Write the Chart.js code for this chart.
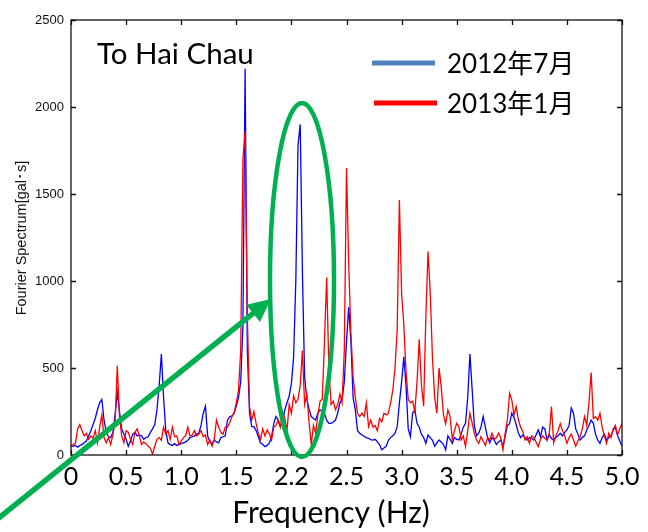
<!DOCTYPE html>
<html>
<head>
<meta charset="utf-8">
<script src="https://cdn.jsdelivr.net/npm/chart.js@4/dist/chart.umd.min.js"></script>
<style>
  html, body { margin: 0; padding: 0; background: #fff; }
  #wrap { width: 648px; height: 532px; }
</style>
</head>
<body>
<div id="wrap"><canvas id="chart" width="648" height="532"></canvas></div>
<script>
// spectrum sampled every DF Hz, 0 .. 5 Hz
const DF = 0.02;

const july2012 = [
  55, 50, 55, 45, 55, 60, 70, 80, 110, 140,
  175, 210, 260, 300, 320, 200, 130, 105, 100, 130,
  230, 360, 250, 150, 120, 90, 50, 80, 120, 130,
  110, 115, 110, 90, 100, 105, 130, 150, 175, 260,
  400, 580, 330, 140, 70, 60, 55, 65, 55, 60,
  65, 70, 75, 85, 100, 105, 110, 120, 125, 170,
  240, 280, 110, 75, 65, 85, 75, 70, 100, 105,
  110, 200, 220, 225, 240, 280, 330, 420, 740, 2220,
  600, 240, 163, 163, 140, 105, 70, 60, 48, 55,
  70, 105, 180, 221, 201, 163, 190, 259, 300, 340,
  412, 560, 1000, 1780, 1900, 1050, 450, 320, 265, 221,
  210, 201, 240, 259, 250, 240, 200, 182, 182, 190,
  201, 240, 300, 320, 420, 650, 850, 650, 330, 259,
  140, 125, 115, 108, 100, 96, 88, 86, 90, 75,
  60, 30, 40, 50, 85, 100, 110, 125, 163, 300,
  420, 565, 400, 150, 105, 240, 260, 182, 160, 120,
  100, 67, 115, 100, 85, 50, 70, 86, 75, 60,
  29, 110, 90, 67, 100, 90, 86, 120, 160, 182,
  330, 580, 380, 170, 110, 125, 160, 221, 160, 100,
  70, 100, 86, 60, 75, 86, 50, 110, 170, 180,
  240, 215, 175, 125, 100, 115, 100, 86, 100, 95,
  86, 115, 144, 105, 160, 150, 86, 115, 95, 86,
  100, 110, 125, 110, 130, 144, 170, 270, 240, 150,
  120, 86, 100, 110, 144, 170, 201, 182, 120, 86,
  67, 100, 120, 86, 100, 110, 144, 160, 110, 80, 50
];

const jan2013 = [
  48, 60, 67, 150, 175, 140, 110, 125, 90, 110,
  95, 140, 70, 160, 230, 100, 70, 100, 60, 115,
  190, 513, 220, 110, 70, 140, 130, 90, 60, 130,
  150, 110, 60, 75, 65, 50, 40, 5, 50, 90,
  100, 85, 160, 120, 140, 90, 160, 105, 110, 60,
  80, 100, 110, 160, 110, 115, 140, 110, 120, 140,
  105, 115, 60, 86, 50, 90, 200, 160, 130, 120,
  160, 160, 185, 221, 240, 300, 370, 600, 1700, 1860,
  800, 280, 200, 250, 180, 125, 90, 150, 110, 145,
  120, 86, 160, 170, 200, 160, 250, 210, 140, 290,
  240, 340, 300, 320, 400, 600, 290, 350, 190, 60,
  170, 125, 230, 310, 320, 650, 1020, 500, 290, 310,
  260, 290, 350, 300, 600, 1650, 1100, 700, 450, 330,
  240, 221, 240, 221, 300, 163, 200, 160, 170, 140,
  210, 190, 240, 230, 240, 300, 370, 500, 720, 1466,
  930, 750, 480, 320, 300, 310, 250, 420, 665, 400,
  280, 795, 1169, 930, 560, 330, 240, 500, 390, 230,
  180, 259, 221, 90, 140, 182, 163, 86, 110, 48,
  140, 240, 185, 125, 86, 67, 105, 80, 55, 100,
  86, 125, 90, 100, 125, 100, 30, 125, 201, 355,
  316, 230, 278, 201, 160, 135, 86, 105, 67, 110,
  100, 75, 48, 90, 110, 95, 86, 125, 278, 70,
  110, 140, 180, 140, 110, 67, 100, 120, 86, 50,
  80, 105, 150, 221, 170, 300, 474, 210, 220, 200,
  240, 160, 110, 67, 125, 100, 150, 170, 115, 150, 182
];

const seriesNames = ['2012年7月', '2013年1月'];
const xTickLabels = ['0', '0.5', '1.0', '1.5', '2.2', '2.5', '3.0', '3.5', '4.0', '4.5', '5.0'];
const stationName = 'To Hai Chau';
const xTitle = 'Frequency (Hz)';
const yTitle = 'Fourier Spectrum[gal･s]';

const toPoints = arr => arr.map((v, i) => ({ x: +(i * DF).toFixed(2), y: v }));

const LATO = 'Lato, "Noto Sans CJK JP", sans-serif';
const ARIAL = '"Liberation Sans", Arial, sans-serif';

// box, inward ticks, titles, legend and the green highlight
const decor = {
  id: 'decor',
  afterDraw(chart) {
    const { ctx, chartArea: a, scales: { x, y } } = chart;
    ctx.save();

    ctx.strokeStyle = '#111';
    ctx.lineWidth = 1.3;
    ctx.strokeRect(a.left, a.top, a.right - a.left, a.bottom - a.top);
    ctx.beginPath();
    x.ticks.forEach(t => {
      const px = Math.round(x.getPixelForValue(t.value)) + 0.5;
      ctx.moveTo(px, a.bottom); ctx.lineTo(px, a.bottom - 5);
      ctx.moveTo(px, a.top); ctx.lineTo(px, a.top + 5);
    });
    y.ticks.forEach(t => {
      const py = Math.round(y.getPixelForValue(t.value)) + 0.5;
      ctx.moveTo(a.left, py); ctx.lineTo(a.left + 5, py);
      ctx.moveTo(a.right, py); ctx.lineTo(a.right - 5, py);
    });
    ctx.stroke();

    // axis titles
    ctx.fillStyle = '#111';
    ctx.font = '14.5px ' + ARIAL;
    ctx.textAlign = 'center';
    ctx.textBaseline = 'middle';
    ctx.save();
    ctx.translate(22, 238);
    ctx.rotate(-Math.PI / 2);
    ctx.fillText(yTitle, 0, 0);
    ctx.restore();

    ctx.fillStyle = '#000';
    ctx.font = '30px ' + LATO;
    ctx.fillText(xTitle, 331, 513);

    // station name
    ctx.textAlign = 'left';
    ctx.textBaseline = 'alphabetic';
    ctx.font = '29.5px ' + LATO;
    ctx.fillText(stationName, 97, 64);

    // legend
    const legendRows = [
      { color: '#4f81bd', y: 63, x0: 372, x1: 435 },
      { color: '#ff0000', y: 103, x0: 374, x1: 437 }
    ];
    ctx.font = '26px ' + LATO;
    ctx.textBaseline = 'middle';
    legendRows.forEach((r, k) => {
      ctx.strokeStyle = r.color;
      ctx.lineWidth = 5;
      ctx.beginPath();
      ctx.moveTo(r.x0, r.y); ctx.lineTo(r.x1, r.y);
      ctx.stroke();
      ctx.fillStyle = '#000';
      ctx.fillText(seriesNames[k], 447, r.y + 2);
    });

    // green ellipse around the 2.1 Hz peak
    ctx.strokeStyle = '#00b050';
    ctx.lineWidth = 4.5;
    ctx.beginPath();
    ctx.ellipse(302, 280, 32, 177, 0, 0, Math.PI * 2);
    ctx.stroke();

    // green arrow pointing at it
    const tail = { x: 0, y: 517 }, tip = { x: 271, y: 299 };
    const len = Math.hypot(tip.x - tail.x, tip.y - tail.y);
    const ux = (tip.x - tail.x) / len, uy = (tip.y - tail.y) / len;
    const headLen = 23, headHalf = 11;
    const bx = tip.x - ux * headLen, by = tip.y - uy * headLen;
    ctx.lineWidth = 5.5;
    ctx.beginPath();
    ctx.moveTo(tail.x - ux * 10, tail.y - uy * 10);
    ctx.lineTo(bx + ux * 2, by + uy * 2);
    ctx.stroke();
    ctx.fillStyle = '#00b050';
    ctx.beginPath();
    ctx.moveTo(tip.x, tip.y);
    ctx.lineTo(bx - uy * headHalf, by + ux * headHalf);
    ctx.lineTo(bx + uy * headHalf, by - ux * headHalf);
    ctx.closePath();
    ctx.fill();

    ctx.restore();
  }
};

new Chart(document.getElementById('chart'), {
  type: 'line',
  data: {
    datasets: [
      { label: seriesNames[0], data: toPoints(july2012), borderColor: '#0000ff', borderWidth: 1.3, pointRadius: 0, tension: 0, order: 2 },
      { label: seriesNames[1], data: toPoints(jan2013), borderColor: '#ff0000', borderWidth: 1.3, pointRadius: 0, tension: 0, order: 1 }
    ]
  },
  options: {
    responsive: false,
    animation: false,
    layout: { padding: { top: 20, right: 26, left: 0, bottom: 0 } },
    plugins: { legend: { display: false }, tooltip: { enabled: false } },
    scales: {
      x: {
        type: 'linear', min: 0, max: 5,
        afterFit: s => { s.height = 77; },
        grid: { display: false, drawTicks: false },
        border: { display: false },
        ticks: {
          stepSize: 0.5, autoSkip: false, maxRotation: 0, padding: 7,
          color: '#000', font: { family: LATO, size: 25 },
          callback: (v, i) => xTickLabels[i]
        }
      },
      y: {
        min: 0, max: 2500,
        afterFit: s => { s.width = 71; },
        grid: { display: false, drawTicks: false },
        border: { display: false },
        ticks: {
          stepSize: 500, padding: 7,
          color: '#111', font: { family: ARIAL, size: 13 },
          callback: v => String(v)
        }
      }
    }
  },
  plugins: [decor]
});
</script>
</body>
</html>
